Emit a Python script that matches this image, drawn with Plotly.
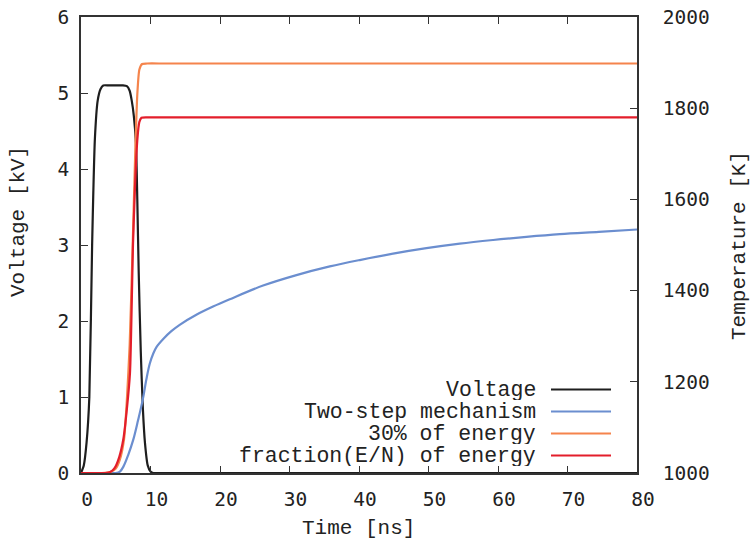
import plotly.graph_objects as go

# ---- data ----
volt_t = [0, 0.4, 0.8, 1.2, 1.6, 2.0, 2.4, 2.8, 3.2, 4, 5, 6, 6.6, 7.0, 7.3, 7.6, 7.9, 8.1, 8.3, 8.6, 8.9, 9.2, 9.6, 10.0, 10.4, 12, 20, 40, 80]
volt_v = [0, 0.1, 0.4, 1.0, 3.0, 4.4, 4.9, 5.05, 5.1, 5.1, 5.1, 5.1, 5.09, 5.03, 4.9, 4.7, 4.35, 3.6, 2.65, 1.6, 0.85, 0.4, 0.1, 0.02, 0, 0, 0, 0, 0]

two_t = [0, 3, 5.0, 5.6, 6.1, 6.8, 7.5, 8.2, 8.9, 9.4, 9.9, 10.4, 10.9, 11.9, 13.0, 14.2, 16.6, 19.0, 21.4, 26.2, 31, 35.8, 40.1, 44.9, 49.7, 54.5, 59.3, 64.1, 68.9, 74.5, 80]
two_T = [1000, 1000, 1000, 1003, 1014, 1040, 1072, 1115, 1162, 1205, 1240, 1262, 1277, 1295, 1311, 1325, 1347, 1365, 1381, 1411, 1434, 1453, 1467, 1481, 1493, 1503, 1511, 1518, 1524, 1529, 1534]

e30_t = [0, 3.0, 4.2, 5.0, 5.6, 6.2, 6.6, 7.0, 7.4, 7.8, 8.1, 8.4, 8.8, 9.5, 12, 20, 40, 80]
e30_T = [1000, 1000, 1002, 1010, 1030, 1075, 1160, 1280, 1480, 1700, 1830, 1885, 1897, 1898, 1898, 1898, 1898, 1898]

frac_t = [0, 3.5, 4.2, 4.8, 5.5, 6.1, 6.6, 7.05, 7.5, 8.1, 8.4, 8.7, 9.5, 12, 20, 40, 80]
frac_T = [1000, 1000, 1002, 1010, 1035, 1075, 1140, 1220, 1510, 1730, 1770, 1779, 1780, 1780, 1780, 1780, 1780]

names = ["Voltage", "Two-step mechanism", "30% of energy", "fraction(E/N) of energy"]
colors = ["#1e1e1e", "#6b8ecf", "#f5844c", "#e31e2b"]

x_ticks = [0, 10, 20, 30, 40, 50, 60, 70, 80]
y_ticks = [0, 1, 2, 3, 4, 5, 6]
y2_ticks = [1000, 1200, 1400, 1600, 1800, 2000]

MONO = "Courier New, Liberation Mono, monospace"
TICKF = dict(family="DejaVu Sans Mono", size=19.5, color="#222222")

fig = go.Figure()
fig.add_trace(go.Scatter(x=volt_t, y=volt_v, name=names[0], mode="lines",
                         line=dict(color=colors[0], width=2.2, shape="spline", smoothing=0.6), yaxis="y"))
fig.add_trace(go.Scatter(x=two_t, y=two_T, name=names[1], mode="lines",
                         line=dict(color=colors[1], width=2.2, shape="spline", smoothing=1.0), yaxis="y2"))
fig.add_trace(go.Scatter(x=e30_t, y=e30_T, name=names[2], mode="lines",
                         line=dict(color=colors[2], width=2.2, shape="spline", smoothing=0.6), yaxis="y2"))
fig.add_trace(go.Scatter(x=frac_t, y=frac_T, name=names[3], mode="lines",
                         line=dict(color=colors[3], width=2.2, shape="spline", smoothing=0.6), yaxis="y2"))

W, H = 752, 543
L, R, T, B = 81, 115, 17, 70
pw, ph = W - L - R, H - T - B

def px(x):
    return (x - L) / pw

def py(y):
    return (H - B - y) / ph

# manual gnuplot-style legend (text right-aligned, sample to the right)
rows_y = [389.5, 411.5, 433.5, 455.5]
TXT = dict(family=MONO, size=21, color="#222222")
LEGF = dict(family=MONO, size=21.5, color="#222222")
annotations = []
shapes = []
for n, c, yy in zip(names, colors, rows_y):
    annotations.append(dict(x=px(538), y=py(yy), xref="paper", yref="paper", text=n, showarrow=False,
                            xanchor="right", yanchor="middle", font=LEGF, height=21, valign="middle"))
    shapes.append(dict(type="line", xref="paper", yref="paper", x0=px(551), x1=px(611), y0=py(yy), y1=py(yy),
                       line=dict(color=c, width=2.2)))

# axis titles
annotations.append(dict(x=px(358), y=py(528), xref="paper", yref="paper", text="Time [ns]", showarrow=False,
                        xanchor="center", yanchor="middle", font=TXT))
annotations.append(dict(x=px(18), y=py(222), xref="paper", yref="paper", text="Voltage [kV]", showarrow=False,
                        textangle=-90, xanchor="center", yanchor="middle", font=TXT))
annotations.append(dict(x=px(739), y=py(246), xref="paper", yref="paper", text="Temperature [K]", showarrow=False,
                        textangle=-90, xanchor="center", yanchor="middle", font=TXT))

fig.update_layout(
    width=W, height=H,
    margin=dict(l=L, r=R, t=T, b=B, pad=0, autoexpand=False),
    paper_bgcolor="white", plot_bgcolor="white",
    showlegend=False,
    xaxis=dict(range=[0, 80], tickvals=x_ticks, ticktext=[str(v) for v in x_ticks],
               ticks="inside", ticklen=7, tickwidth=1.2, tickcolor="#333333",
               showline=True, linecolor="#333333", linewidth=1.6, mirror="ticks",
               showgrid=False, zeroline=False, tickfont=TICKF, automargin=False,
               ticklabelshift=6, ticklabelstandoff=8),
    yaxis=dict(range=[0, 6], tickvals=y_ticks, ticktext=[str(v) for v in y_ticks],
               ticks="inside", ticklen=7, tickwidth=1.2, tickcolor="#333333",
               showline=True, linecolor="#333333", linewidth=1.6, mirror=False,
               showgrid=False, zeroline=False, tickfont=TICKF, ticklabelstandoff=6, automargin=False),
    yaxis2=dict(range=[1000, 2000], tickvals=y2_ticks, ticktext=[str(v) for v in y2_ticks],
                overlaying="y", side="right", anchor="x",
                ticks="inside", ticklen=7, tickwidth=1.2, tickcolor="#333333",
                showline=True, linecolor="#333333", linewidth=1.6, automargin=False,
                showgrid=False, zeroline=False, tickfont=TICKF, ticklabelstandoff=20),
    annotations=annotations,
    shapes=shapes,
)

fig.write_html("out.html", config={"displayModeBar": False},
               post_script="document.body.style.margin='0px';document.body.style.overflow='hidden';")
